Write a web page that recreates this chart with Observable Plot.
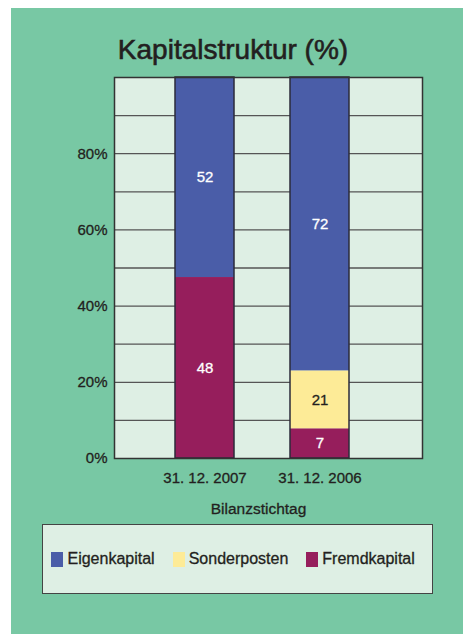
<!DOCTYPE html>
<html>
<head>
<meta charset="utf-8">
<script src="https://cdn.jsdelivr.net/npm/d3@7"></script>
<script src="https://cdn.jsdelivr.net/npm/@observablehq/plot@0.6"></script>
<style>
  html, body { margin: 0; padding: 0; background: #ffffff; }
  body { width: 463px; height: 634px; position: relative; overflow: hidden; font-family: "Liberation Sans", Arial, sans-serif; }
  #panel { position: absolute; left: 11px; top: 8px; width: 452px; height: 626px; background: #78c8a4; }
  #title { position: absolute; left: 0; width: 444px; top: 27.6px; text-align: center; font-size: 28px; line-height: 28px; color: #231f20; -webkit-text-stroke: 0.6px #231f20; }
  #chart { position: absolute; left: 0; top: 60px; }
  #xlabel { position: absolute; left: 147.5px; width: 200px; top: 492.6px; text-align: center; font-size: 15.5px; line-height: 16px; color: #231f20; -webkit-text-stroke: 0.3px #231f20; }
  #legend { position: absolute; left: 30.7px; top: 516.3px; width: 380.6px; height: 67.7px; border: 1.5px solid #444; background: #deefe4; display: flex; align-items: center; padding-left: 8.8px; box-sizing: content-box; }
  .item { display: flex; align-items: center; margin-right: 18px; }
  .sw { width: 12px; height: 15px; margin-right: 4px; }
  .lt { font-size: 16px; color: #231f20; line-height: 16px; -webkit-text-stroke: 0.3px #231f20; }
  #chart svg g[aria-label*="axis"] text { stroke: #231f20; stroke-width: 0.3px; }
</style>
</head>
<body>
<div id="panel">
  <div id="title">Kapitalstruktur (%)</div>
  <div id="chart"></div>
  <div id="xlabel">Bilanzstichtag</div>
  <div id="legend"></div>
</div>
<script>
// Categories (balance sheet dates)
const dates = ["31. 12. 2007", "31. 12. 2006"];
// Components, bottom to top
const components = ["Fremdkapital", "Sonderposten", "Eigenkapital"];
const componentColors = ["#961e5c", "#fdeb97", "#4a5da8"];
// Segment heights as drawn in the reference (%)
const fremdkapital = [47.5, 7.8];
const sonderposten = [0, 15.2];
const eigenkapital = [52.5, 77];
// Values printed on the segments
const fremdkapitalLabels = ["48", "7"];
const sonderpostenLabels = [null, "21"];
const eigenkapitalLabels = ["52", "72"];
// Axis ticks
const yTicks = [0, 20, 40, 60, 80];
const gridLines = [10, 20, 30, 40, 50, 60, 70, 80, 90];

const series = {
  Fremdkapital: {values: fremdkapital, labels: fremdkapitalLabels},
  Sonderposten: {values: sonderposten, labels: sonderpostenLabels},
  Eigenkapital: {values: eigenkapital, labels: eigenkapitalLabels}
};
const rows = [];
dates.forEach((date, i) => {
  components.forEach(c => {
    rows.push({date, component: c, value: series[c].values[i], label: series[c].labels[i]});
  });
});
const totals = dates.map((date, i) => ({date, total: d3.sum(components, c => series[c].values[i])}));

const light = "#deefe4";
const labelColor = d => d.component === "Sonderposten" ? "#231f20" : "#ffffff";
const chart = Plot.plot({
  width: 452,
  height: 420,
  marginLeft: 103,
  marginRight: 41,
  marginTop: 9,
  marginBottom: 30,
  style: {background: "transparent", fontSize: "15px", fontFamily: "Liberation Sans, Arial, sans-serif", color: "#231f20", overflow: "visible"},
  x: {domain: dates, range: [107, 394], padding: 0.487, tickSize: 0, tickPadding: 14, label: null},
  y: {domain: [0, 100], ticks: yTicks, tickFormat: d => d + "%", tickSize: 0, tickPadding: 7, label: null},
  color: {domain: components, range: componentColors},
  marks: [
    Plot.frame({fill: light, stroke: null}),
    Plot.ruleY(gridLines, {stroke: "#555", strokeWidth: 1.3}),
    Plot.barY(rows, Plot.stackY({x: "date", y: "value", fill: "component"})),
    Plot.barY(totals, {x: "date", y: "total", fill: "none", stroke: "#2b2b3a", strokeWidth: 1.5}),
    Plot.text(rows, Plot.stackY({
      x: "date", y: "value", text: "label",
      fill: labelColor, stroke: labelColor, strokeWidth: 0.3, paintOrder: "fill",
      fontSize: 15
    })),
    Plot.frame({stroke: "#333", strokeWidth: 1.5})
  ]
});
document.getElementById("chart").appendChild(chart);

const legend = document.getElementById("legend");
components.slice().reverse().forEach(c => {
  const idx = components.indexOf(c);
  const it = document.createElement("div");
  it.className = "item";
  const sw = document.createElement("div");
  sw.className = "sw";
  sw.style.background = componentColors[idx];
  const lt = document.createElement("span");
  lt.className = "lt";
  lt.textContent = c;
  it.appendChild(sw); it.appendChild(lt);
  legend.appendChild(it);
});
</script>
</body>
</html>
